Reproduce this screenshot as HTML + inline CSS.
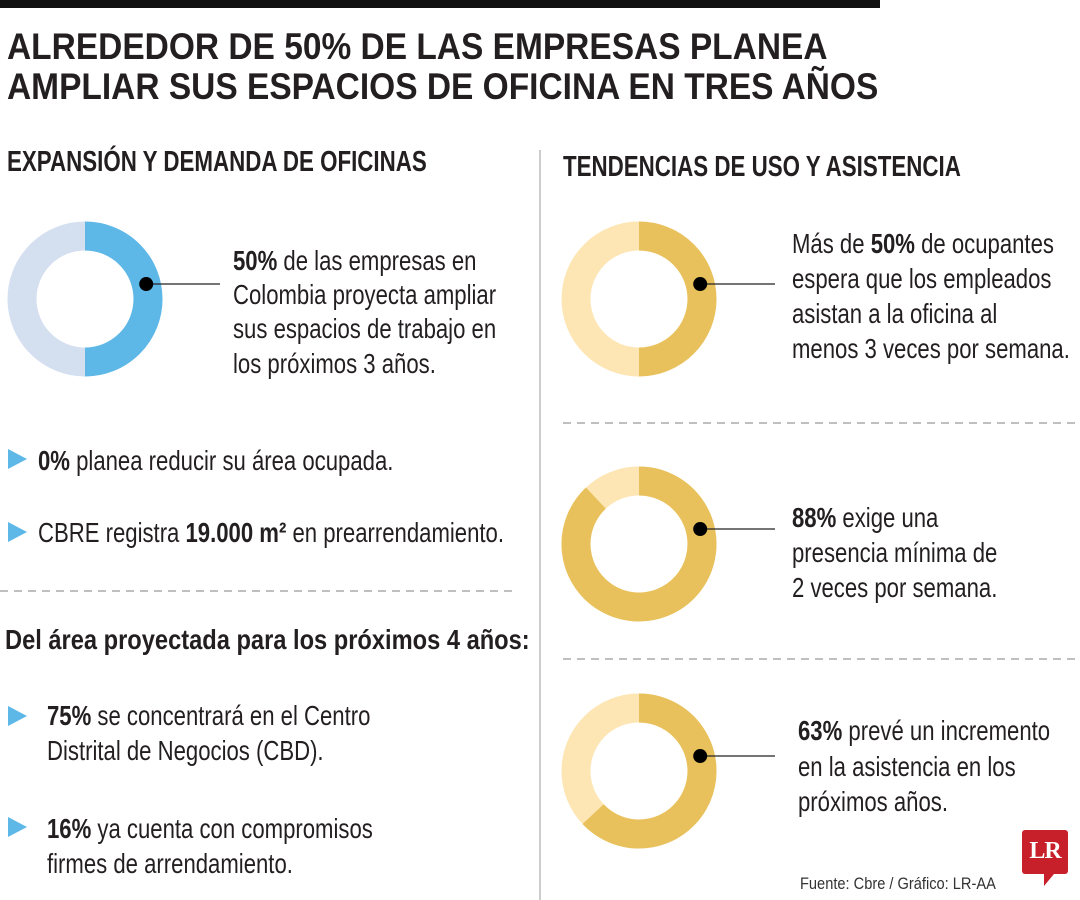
<!DOCTYPE html>
<html><head><meta charset="utf-8">
<style>
body{margin:0;background:#fff;}
#root{position:relative;width:1080px;height:900px;overflow:hidden;background:#fff;font-family:"Liberation Sans",sans-serif;color:#231f20;}
.t{position:absolute;white-space:nowrap;transform-origin:0 0;line-height:1;}
.title{font-weight:bold;font-size:37px;transform:scaleX(0.905);}
.head{font-weight:bold;font-size:29px;transform:scaleX(0.77);}
.body{font-size:28px;transform:scaleX(0.79);}
.sub{font-size:28px;font-weight:bold;transform:scaleX(0.845);}
.tri{position:absolute;width:0;height:0;border-top:10px solid transparent;border-bottom:10px solid transparent;border-left:19px solid #5db8e8;}
</style></head>
<body>
<div id="root">
<div style="position:absolute;left:0;top:0;width:880px;height:8px;background:#111"></div>
<div class="t title" style="left:7px;top:28px">ALREDEDOR DE 50% DE LAS EMPRESAS PLANEA</div>
<div class="t title" style="left:7px;top:68px">AMPLIAR SUS ESPACIOS DE OFICINA EN TRES AÑOS</div>

<div class="t head" style="left:7px;top:148px">EXPANSIÓN Y DEMANDA DE OFICINAS</div>
<div class="t head" style="left:563px;top:153px">TENDENCIAS DE USO Y ASISTENCIA</div>

<svg id="chart" width="1080" height="900" style="position:absolute;left:0;top:0">
<line x1="540" y1="150" x2="540" y2="900" stroke="#bbb" stroke-width="1.5"/>
<line x1="0" y1="591" x2="515" y2="591" stroke="#aaa" stroke-width="1.5" stroke-dasharray="8,6"/>
<line x1="563" y1="423" x2="1080" y2="423" stroke="#aaa" stroke-width="1.5" stroke-dasharray="8,6"/>
<line x1="563" y1="659" x2="1080" y2="659" stroke="#aaa" stroke-width="1.5" stroke-dasharray="8,6"/>
</svg>

<div class="t body" style="left:233px;top:247px"><b>50%</b> de las empresas en</div>
<div class="t body" style="left:233px;top:281px">Colombia proyecta ampliar</div>
<div class="t body" style="left:233px;top:315px">sus espacios de trabajo en</div>
<div class="t body" style="left:233px;top:350px">los próximos 3 años.</div>

<div class="tri" style="left:8px;top:449px"></div>
<div class="t body" style="left:38px;top:447px"><b>0%</b> planea reducir su área ocupada.</div>
<div class="tri" style="left:8px;top:522px"></div>
<div class="t body" style="left:38px;top:519px">CBRE registra <b>19.000 m²</b> en prearrendamiento.</div>

<div class="t sub" style="left:5px;top:626px">Del área proyectada para los próximos 4 años:</div>
<div class="tri" style="left:8px;top:706px"></div>
<div class="t body" style="left:47px;top:702px"><b>75%</b> se concentrará en el Centro</div>
<div class="t body" style="left:47px;top:737px">Distrital de Negocios (CBD).</div>
<div class="tri" style="left:8px;top:817px"></div>
<div class="t body" style="left:47px;top:815px"><b>16%</b> ya cuenta con compromisos</div>
<div class="t body" style="left:47px;top:850px">firmes de arrendamiento.</div>

<div class="t body" style="left:792px;top:230px">Más de <b>50%</b> de ocupantes</div>
<div class="t body" style="left:792px;top:265px">espera que los empleados</div>
<div class="t body" style="left:792px;top:300px">asistan a la oficina al</div>
<div class="t body" style="left:792px;top:335px">menos 3 veces por semana.</div>

<div class="t body" style="left:792px;top:504px"><b>88%</b> exige una</div>
<div class="t body" style="left:792px;top:539px">presencia mínima de</div>
<div class="t body" style="left:792px;top:574px">2 veces por semana.</div>

<div class="t body" style="left:798px;top:717px"><b>63%</b> prevé un incremento</div>
<div class="t body" style="left:798px;top:753px">en la asistencia en los</div>
<div class="t body" style="left:798px;top:788px">próximos años.</div>

<div class="t" style="left:800px;top:875px;font-size:17px;transform:scaleX(0.86);color:#333">Fuente: Cbre / Gráfico: LR-AA</div>
<div style="position:absolute;left:1022px;top:830px;width:46px;height:44px;background:#c8202a;border-radius:3px">
<div style="position:absolute;left:0;top:8px;width:46px;text-align:center;color:#fff;font-family:'Liberation Serif',serif;font-weight:bold;font-size:24px;letter-spacing:-1px">LR</div>
<div style="position:absolute;left:22px;top:44px;width:0;height:0;border-left:10px solid #c8202a;border-bottom:12px solid transparent"></div>
</div>
</div>
<script>
const donutLabels = ["expansion", "attendance-3x", "attendance-2x", "attendance-increase"];
const donutValues = [50, 50, 88, 63];
const donutColors = [["#5db8e8","#d4dff0"],["#e9c15c","#fde6b4"],["#e9c15c","#fde6b4"],["#e9c15c","#fde6b4"]];
const donutCenters = [[85,299],[639,299],[639,544],[639,771]];
const lineEnds = [220, 775, 775, 775];
const NS = "http://www.w3.org/2000/svg";
const svg = document.getElementById("chart");
const RM = 63, W = 29;
function pt(cx, cy, r, pct){const a = pct/100*2*Math.PI - Math.PI/2;return [cx + r*Math.cos(a), cy + r*Math.sin(a)];}
function arc(cx, cy, r, p0, p1){
  const s = pt(cx,cy,r,p0), e = pt(cx,cy,r,p1);
  const large = (p1-p0) > 50 ? 1 : 0;
  return `M${s[0]},${s[1]} A${r},${r} 0 ${large} 1 ${e[0]},${e[1]}`;
}
donutValues.forEach((v, i) => {
  const [cx, cy] = donutCenters[i];
  const g = document.createElementNS(NS, "g");
  
  
  const bg = document.createElementNS(NS, "circle");
  bg.setAttribute("cx", cx); bg.setAttribute("cy", cy); bg.setAttribute("r", RM);
  bg.setAttribute("fill", "none"); bg.setAttribute("stroke", donutColors[i][1]); bg.setAttribute("stroke-width", W);
  
  
  g.appendChild(bg);
  const p = document.createElementNS(NS, "path");
  p.setAttribute("d", arc(cx, cy, RM, 0, v));
  p.setAttribute("fill", "none"); p.setAttribute("stroke", donutColors[i][0]); p.setAttribute("stroke-width", W);
  
  
  g.appendChild(p);
  const dx = cx + RM*Math.cos(-0.24), dy = cy + RM*Math.sin(-0.24);
  const ln = document.createElementNS(NS, "line");
  ln.setAttribute("x1", dx); ln.setAttribute("y1", dy); ln.setAttribute("x2", lineEnds[i]); ln.setAttribute("y2", dy);
  ln.setAttribute("stroke", "#222"); ln.setAttribute("stroke-width", 1.3);
  
  
  g.appendChild(ln);
  const d = document.createElementNS(NS, "circle");
  d.setAttribute("cx", dx); d.setAttribute("cy", dy); d.setAttribute("r", 7); d.setAttribute("fill", "#000");
  
  
  g.appendChild(d);
  svg.appendChild(g);
});
</script>
</body></html>
